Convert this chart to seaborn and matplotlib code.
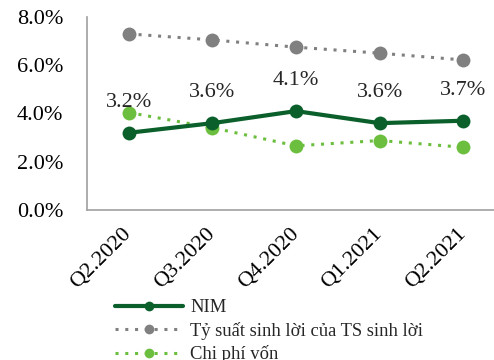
import numpy as np
import pandas as pd
import matplotlib
matplotlib.use('Agg')
import matplotlib.pyplot as plt
import seaborn as sns

quarters = ['Q2.2020', 'Q3.2020', 'Q4.2020', 'Q1.2021', 'Q2.2021']
nim = [3.2, 3.6, 4.1, 3.6, 3.7]
ty_suat = [7.3, 7.05, 6.75, 6.5, 6.22]
chi_phi = [4.04, 3.41, 2.66, 2.88, 2.6]
nim_labels = ['3.2%', '3.6%', '4.1%', '3.6%', '3.7%']

sns.set_style('white')
plt.rcParams['font.family'] = ['Liberation Serif', 'DejaVu Serif']

fig = plt.figure(figsize=(4.94, 3.6), dpi=100)
ax = fig.add_axes([87 / 494, (360 - 210) / 360, 418 / 494, 193 / 360])

x = np.arange(len(quarters))
sns.lineplot(x=x, y=ty_suat, ax=ax, color='#808080', lw=2.2, linestyle=(0, (1, 2.2)),
             marker='o', markersize=10, markeredgewidth=0, label='Tỷ suất sinh lời của TS sinh lời')
sns.lineplot(x=x, y=chi_phi, ax=ax, color='#6cbf3e', lw=2.2, linestyle=(0, (1, 2.2)),
             marker='o', markersize=10, markeredgewidth=0, label='Chi phí vốn')
sns.lineplot(x=x, y=nim, ax=ax, color='#0a5f2b', lw=3, marker='o', markersize=10,
             markeredgewidth=0, label='NIM')

for xi, yi, t in zip(x, nim, nim_labels):
    ax.annotate(t, (xi, yi), xytext=(0, 22), textcoords='offset points',
                ha='center', va='center', fontsize=16)

ax.set_xlim(-0.5, len(quarters) - 0.5)
ax.set_ylim(0, 8)
ax.set_yticks([0, 2, 4, 6, 8])
ax.set_yticklabels([f'{v:.1f}%' for v in [0, 2, 4, 6, 8]], fontsize=16)
ax.set_xticks(x)
ax.set_xticklabels(quarters, rotation=45, ha='right', va='center',
                   rotation_mode='anchor', fontsize=16)
ax.set_xticks(np.arange(len(quarters) + 1) - 0.5, minor=True)
ax.tick_params(axis='x', which='major', length=0, pad=15)
ax.tick_params(axis='x', which='minor', length=5, color='#a0a0a0', width=1.2, direction='out')
ax.tick_params(axis='y', length=5, color='#a0a0a0', width=1.2, direction='out', pad=12)
ax.tick_params(axis='both', colors='#a0a0a0', labelcolor='black')

for s in ['top', 'right']:
    ax.spines[s].set_visible(False)
for s in ['left', 'bottom']:
    ax.spines[s].set_color('#a0a0a0')
    ax.spines[s].set_linewidth(1.2)

h, l = ax.get_legend_handles_labels()
order = [2, 0, 1]
ax.legend([h[i] for i in order], [l[i] for i in order], loc='upper left',
          bbox_to_anchor=(115 / 494, 1 - 299 / 360), bbox_transform=fig.transFigure,
          frameon=False, fontsize=13.4, handlelength=3.65, labelspacing=0.3,
          handletextpad=0.4, borderpad=0, borderaxespad=0, markerscale=0.7)

fig.savefig('out.png', dpi=100)
